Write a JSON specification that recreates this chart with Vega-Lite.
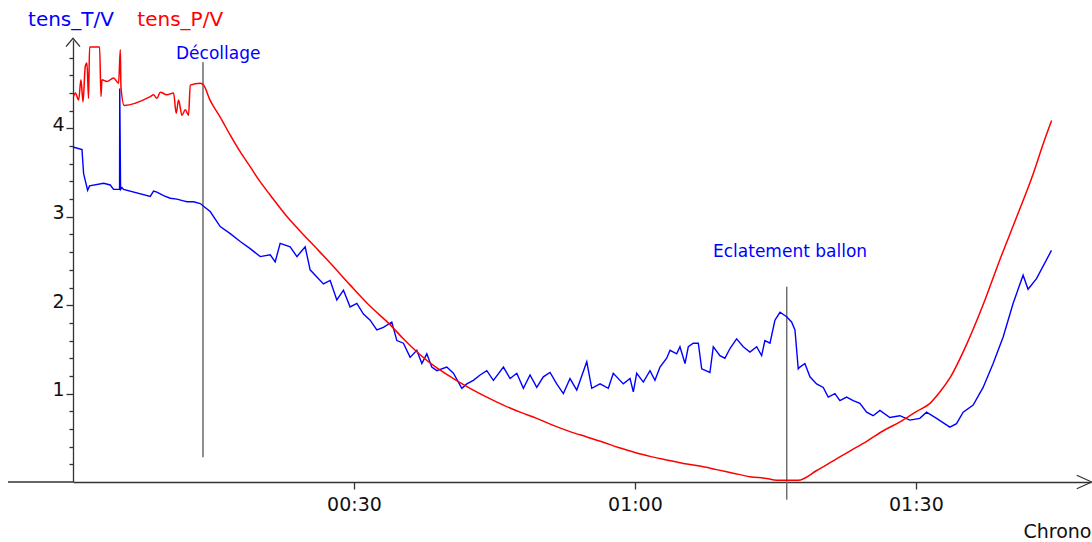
{
  "$schema": "https://vega.github.io/schema/vega-lite/v6.json",
  "width": 1018,
  "height": 442,
  "autosize": {"type": "none"},
  "padding": {"left": 73, "top": 40, "right": 1, "bottom": 60},
  "background": "white",
  "config": {"view": {"stroke": null}, "font": "DejaVu Sans"},
  "datasets": {
    "blue": [
      {"t":0,"v":3.79},{"t":0.96,"v":3.76},{"t":1.13,"v":3.49},{"t":1.31,"v":3.41},{"t":1.56,"v":3.30},{"t":1.77,"v":3.35},{"t":3.27,"v":3.38},{"t":3.98,"v":3.36},{"t":4.33,"v":3.31},{"t":4.97,"v":3.31},{"t":4.99,"v":4.45},{"t":5.08,"v":3.31},{"t":5.23,"v":3.33},{"t":5.40,"v":3.31},{"t":8.25,"v":3.23},{"t":8.60,"v":3.29},{"t":8.96,"v":3.28},{"t":9.67,"v":3.24},{"t":10.38,"v":3.21},{"t":11.10,"v":3.20},{"t":11.80,"v":3.18},{"t":12.17,"v":3.17},{"t":12.87,"v":3.17},{"t":13.59,"v":3.15},{"t":13.94,"v":3.12},{"t":14.65,"v":3.06},{"t":15.72,"v":2.89},{"t":16.79,"v":2.81},{"t":17.86,"v":2.72},{"t":18.92,"v":2.64},{"t":19.99,"v":2.55},{"t":21.06,"v":2.57},{"t":21.59,"v":2.49},{"t":22.12,"v":2.70},{"t":23.19,"v":2.66},{"t":23.91,"v":2.55},{"t":24.79,"v":2.66},{"t":25.32,"v":2.40},{"t":26.04,"v":2.32},{"t":26.74,"v":2.24},{"t":27.46,"v":2.28},{"t":28.17,"v":2.06},{"t":28.88,"v":2.17},{"t":29.59,"v":1.98},{"t":30.31,"v":2.02},{"t":31.01,"v":1.90},{"t":31.73,"v":1.83},{"t":32.44,"v":1.72},{"t":33.15,"v":1.75},{"t":34.04,"v":1.81},{"t":34.58,"v":1.60},{"t":35.28,"v":1.57},{"t":36.00,"v":1.41},{"t":36.71,"v":1.49},{"t":37.25,"v":1.34},{"t":37.78,"v":1.45},{"t":38.31,"v":1.30},{"t":38.85,"v":1.26},{"t":39.91,"v":1.30},{"t":40.62,"v":1.23},{"t":41.52,"v":1.06},{"t":42.05,"v":1.11},{"t":42.75,"v":1.15},{"t":43.47,"v":1.21},{"t":44.18,"v":1.26},{"t":44.89,"v":1.15},{"t":45.96,"v":1.30},{"t":46.67,"v":1.17},{"t":47.39,"v":1.23},{"t":48.09,"v":1.06},{"t":48.80,"v":1.21},{"t":49.52,"v":1.07},{"t":50.22,"v":1.19},{"t":50.94,"v":1.24},{"t":51.65,"v":1.11},{"t":52.36,"v":1.00},{"t":53.07,"v":1.17},{"t":53.79,"v":1.04},{"t":54.86,"v":1.36},{"t":55.39,"v":1.06},{"t":56.28,"v":1.11},{"t":57.16,"v":1.06},{"t":57.69,"v":1.23},{"t":58.76,"v":1.11},{"t":59.48,"v":1.17},{"t":59.83,"v":1.02},{"t":60.19,"v":1.23},{"t":60.90,"v":1.13},{"t":61.61,"v":1.26},{"t":62.14,"v":1.15},{"t":62.68,"v":1.30},{"t":63.39,"v":1.40},{"t":63.75,"v":1.49},{"t":64.46,"v":1.45},{"t":64.81,"v":1.53},{"t":65.35,"v":1.34},{"t":65.70,"v":1.53},{"t":66.23,"v":1.57},{"t":66.77,"v":1.57},{"t":67.13,"v":1.28},{"t":68.01,"v":1.24},{"t":68.37,"v":1.53},{"t":69.08,"v":1.43},{"t":69.61,"v":1.40},{"t":70.15,"v":1.51},{"t":70.86,"v":1.62},{"t":71.57,"v":1.53},{"t":72.28,"v":1.47},{"t":73.00,"v":1.53},{"t":73.53,"v":1.43},{"t":73.88,"v":1.60},{"t":74.42,"v":1.57},{"t":74.95,"v":1.83},{"t":75.49,"v":1.92},{"t":76.20,"v":1.87},{"t":76.73,"v":1.81},{"t":77.09,"v":1.72},{"t":77.44,"v":1.28},{"t":77.62,"v":1.30},{"t":78.15,"v":1.34},{"t":78.69,"v":1.19},{"t":79.40,"v":1.11},{"t":80.11,"v":1.07},{"t":80.64,"v":0.96},{"t":81.36,"v":1.00},{"t":81.89,"v":0.92},{"t":82.60,"v":0.96},{"t":83.31,"v":0.92},{"t":84.02,"v":0.89},{"t":84.74,"v":0.79},{"t":85.44,"v":0.75},{"t":86.16,"v":0.81},{"t":87.22,"v":0.73},{"t":88.29,"v":0.75},{"t":89.36,"v":0.70},{"t":90.42,"v":0.72},{"t":91.14,"v":0.79},{"t":92.21,"v":0.72},{"t":93.63,"v":0.62},{"t":94.34,"v":0.66},{"t":95.05,"v":0.79},{"t":96.12,"v":0.87},{"t":97.18,"v":1.07},{"t":98.25,"v":1.34},{"t":99.32,"v":1.64},{"t":100.38,"v":2.02},{"t":101.45,"v":2.34},{"t":101.98,"v":2.18},{"t":102.88,"v":2.30},{"t":104.48,"v":2.62}
    ],
    "red": [
      {"t":0.06,"v":4.36},{"t":0.25,"v":4.40},{"t":0.60,"v":4.32},{"t":0.85,"v":4.55},{"t":1.07,"v":4.30},{"t":1.31,"v":4.70},{"t":1.49,"v":4.74},{"t":1.66,"v":4.34},{"t":1.77,"v":4.92},{"t":2.84,"v":4.92},{"t":2.99,"v":4.36},{"t":3.09,"v":4.55},{"t":3.63,"v":4.53},{"t":4.33,"v":4.57},{"t":4.87,"v":4.51},{"t":5.05,"v":4.89},{"t":5.12,"v":4.47},{"t":5.47,"v":4.26},{"t":8.25,"v":4.36},{"t":8.60,"v":4.38},{"t":8.96,"v":4.34},{"t":9.32,"v":4.41},{"t":10.03,"v":4.38},{"t":10.74,"v":4.40},{"t":11.02,"v":4.17},{"t":11.27,"v":4.32},{"t":11.63,"v":4.15},{"t":11.99,"v":4.21},{"t":12.34,"v":4.15},{"t":12.52,"v":4.49},{"t":13.59,"v":4.51},{"t":13.94,"v":4.49},{"t":14.63,"v":4.32},{"t":15.70,"v":4.13},{"t":16.76,"v":3.93},{"t":17.83,"v":3.74},{"t":18.90,"v":3.57},{"t":19.96,"v":3.40},{"t":21.03,"v":3.25},{"t":22.64,"v":3.03},{"t":24.24,"v":2.84},{"t":25.84,"v":2.66},{"t":27.44,"v":2.48},{"t":29.58,"v":2.23},{"t":31.71,"v":1.99},{"t":33.85,"v":1.78},{"t":35.28,"v":1.62},{"t":37.06,"v":1.44},{"t":38.85,"v":1.29},{"t":40.62,"v":1.17},{"t":42.40,"v":1.06},{"t":44.18,"v":0.96},{"t":45.96,"v":0.87},{"t":47.74,"v":0.79},{"t":49.52,"v":0.72},{"t":51.29,"v":0.64},{"t":53.07,"v":0.57},{"t":54.86,"v":0.51},{"t":56.63,"v":0.45},{"t":58.23,"v":0.39},{"t":59.83,"v":0.34},{"t":61.61,"v":0.29},{"t":63.39,"v":0.25},{"t":65.17,"v":0.21},{"t":66.94,"v":0.18},{"t":68.73,"v":0.14},{"t":70.50,"v":0.10},{"t":72.28,"v":0.06},{"t":74.07,"v":0.04},{"t":75.13,"v":0.02},{"t":77.44,"v":0.02},{"t":79.41,"v":0.13},{"t":81.18,"v":0.24},{"t":82.95,"v":0.35},{"t":84.75,"v":0.46},{"t":86.52,"v":0.58},{"t":88.30,"v":0.68},{"t":90.09,"v":0.80},{"t":91.51,"v":0.89},{"t":92.58,"v":1.02},{"t":93.65,"v":1.18},{"t":95.43,"v":1.56},{"t":97.20,"v":2.01},{"t":98.99,"v":2.52},{"t":100.77,"v":3.00},{"t":102.54,"v":3.49},{"t":103.61,"v":3.83},{"t":104.50,"v":4.09}
    ]
  },
  "encoding": {
    "x": {
      "field": "t", "type": "quantitative",
      "scale": {"domain": [0, 108.7], "nice": false, "zero": false},
      "axis": {
        "values": [30, 60, 90],
        "labelExpr": "format(floor(datum.value/60),'02d') + ':' + format(datum.value%60,'02d')",
        "grid": false,
        "domainColor": "#333", "domainWidth": 1.3,
        "tickColor": "#333", "tickWidth": 1.3, "tickSize": 7,
        "labelFont": "DejaVu Sans", "labelFontSize": 19, "labelColor": "#111",
        "labelBaseline": "alphabetic", "labelPadding": 21, "labelFlush": false,
        "title": "Chrono", "titleFont": "DejaVu Sans", "titleFontSize": 19, "titleFontWeight": "normal",
        "titleColor": "#111", "titleAnchor": "end", "titleAlign": "right", "titleBaseline": "alphabetic",
        "titleX": 1018, "titleY": 55
      }
    },
    "y": {
      "field": "v", "type": "quantitative",
      "scale": {"domain": [0, 5], "nice": false, "zero": false},
      "axis": {
        "values": [0.2,0.4,0.6,0.8,1,1.2,1.4,1.6,1.8,2,2.2,2.4,2.6,2.8,3,3.2,3.4,3.6,3.8,4,4.2,4.4,4.6,4.8],
        "labelExpr": "datum.value % 1 === 0 ? format(datum.value,'d') : ''",
        "grid": false, "title": null,
        "domainColor": "#333", "domainWidth": 1.3,
        "tickColor": "#333", "tickWidth": 1.3,
        "tickSize": {"condition": {"test": "datum.value % 1 === 0", "value": 7}, "value": 4},
        "labelFont": "DejaVu Sans", "labelFontSize": 19, "labelColor": "#111",
        "labelBaseline": "alphabetic", "labelOffset": 2, "labelPadding": 2, "labelAlign": "right"
      }
    }
  },
  "layer": [
    {"data": {"values": [{"t": -6.94, "t2": 0, "v": 0}]}, "mark": {"type": "rule", "color": "#333", "strokeWidth": 1.3}, "encoding": {"x2": {"field": "t2"}}},
    {"data": {"values": [{"t": 13.88, "v": 0.28, "v2": 4.75}]}, "mark": {"type": "rule", "color": "#222", "strokeWidth": 1}, "encoding": {"y2": {"field": "v2"}}},
    {"data": {"values": [{"t": 76.21, "v": -0.2, "v2": 2.21}]}, "mark": {"type": "rule", "color": "#707070", "strokeWidth": 1.5}, "encoding": {"y2": {"field": "v2"}}},
    {"data": {"name": "blue"}, "mark": {"type": "line", "color": "#0000ff", "strokeWidth": 1.4}, "encoding": {}},
    {"data": {"name": "red"}, "mark": {"type": "line", "color": "#ff0000", "strokeWidth": 1.5, "interpolate": "monotone"}, "encoding": {}},
    {"data": {"values": [{"t": 11.0, "v": 4.78, "label": "Décollage"}, {"t": 68.34, "v": 2.545, "label": "Eclatement ballon"}]},
     "mark": {"type": "text", "align": "left", "baseline": "alphabetic", "color": "#0000ff", "font": "DejaVu Sans", "fontSize": 17},
     "encoding": {"text": {"field": "label"}}},
    {"data": {"values": [{"t": -4.8, "v": 5.158, "label": "tens_T/V"}]},
     "mark": {"type": "text", "align": "left", "baseline": "alphabetic", "color": "#0000ff", "font": "DejaVu Sans", "fontSize": 20},
     "encoding": {"text": {"field": "label"}}},
    {"data": {"values": [{"t": 6.87, "v": 5.158, "label": "tens_P/V"}]},
     "mark": {"type": "text", "align": "left", "baseline": "alphabetic", "color": "#ff0000", "font": "DejaVu Sans", "fontSize": 20},
     "encoding": {"text": {"field": "label"}}},
    {"data": {"values": [{"t": 0, "v": 5.02}]},
     "mark": {"type": "point", "shape": "M-1,1.2L0,0L1,1.2", "size": 196, "filled": false, "stroke": "#333", "strokeWidth": 1.3, "opacity": 1}},
    {"data": {"values": [{"t": 108.78, "v": 0}]},
     "mark": {"type": "point", "shape": "M-2,-0.9L0,0L-2,0.9", "size": 225, "filled": false, "stroke": "#333", "strokeWidth": 1.3, "opacity": 1}}
  ]
}
